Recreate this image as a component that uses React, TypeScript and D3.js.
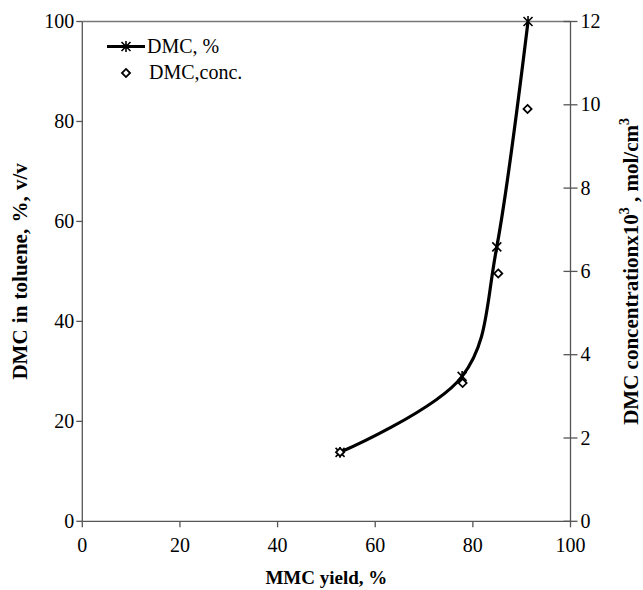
import React from "react";
import * as d3 from "d3";

const mmcYield = [52.8, 77.8, 84.9, 91.3];
const dmcPercent = [13.8, 29.0, 54.9, 100];
const concYield = [52.8, 77.9, 85.2, 91.2];
const dmcConc = [1.66, 3.32, 5.95, 9.9];
const xTicks = [0, 20, 40, 60, 80, 100];
const yLeftTicks = [0, 20, 40, 60, 80, 100];
const yRightTicks = [0, 2, 4, 6, 8, 10, 12];

const W = 643;
const H = 590;
const L = 82.3, R = 570.5, T = 21.5, B = 521.3;
const font = "Liberation Serif, DejaVu Serif, Times New Roman, serif";
const axisColor = "#555";

function star(cx: number, cy: number, r: number) {
  return `M${cx - r},${cy - r}L${cx + r},${cy + r}M${cx - r},${cy + r}L${cx + r},${cy - r}M${cx},${cy - r * 1.2}L${cx},${cy + r * 1.2}`;
}

export default function App() {
  const x = d3.scaleLinear().domain([0, 100]).range([L, R]);
  const yL = d3.scaleLinear().domain([0, 100]).range([B, T]);
  const yR = d3.scaleLinear().domain([0, 12]).range([B, T]);
  const pts: [number, number][] = mmcYield.map((v, i) => [x(v), yL(dmcPercent[i])]);
  const line = d3.line().curve(d3.curveCardinal.tension(0))(pts) || "";
  const diamond = d3.symbol().type(d3.symbolDiamond2).size(42)() || "";
  return (
    <svg width={W} height={H} style={{ display: "block", position: "absolute", left: 0, top: 0, fontFamily: font }}>
      <rect width={W} height={H} fill="#fff" />
      <line x1={L} x2={R} y1={T} y2={T} stroke="#777" strokeWidth={1.3} />
      <line x1={L} x2={R} y1={B} y2={B} stroke={axisColor} strokeWidth={1.3} />
      <line x1={L} x2={L} y1={T} y2={B} stroke={axisColor} strokeWidth={1.3} />
      <line x1={R} x2={R} y1={T} y2={B} stroke={axisColor} strokeWidth={1.3} />
      {xTicks.map((t) => (
        <g key={"x" + t}>
          <line x1={x(t)} x2={x(t)} y1={B} y2={B + 6} stroke={axisColor} strokeWidth={1.3} />
          <text x={x(t)} y={B + 31} textAnchor="middle" style={{ fontFamily: font }} fontSize={20}>{t}</text>
        </g>
      ))}
      {yLeftTicks.map((t) => (
        <g key={"yl" + t}>
          <line x1={L - 6} x2={L} y1={yL(t)} y2={yL(t)} stroke={axisColor} strokeWidth={1.3} />
          <text x={L - 8} y={yL(t) + 6.5} textAnchor="end" style={{ fontFamily: font }} fontSize={20}>{t}</text>
        </g>
      ))}
      {yRightTicks.map((t) => (
        <g key={"yr" + t}>
          <line x1={R - 7} x2={R + 7} y1={yR(t)} y2={yR(t)} stroke={axisColor} strokeWidth={1.3} />
          <text x={R + 10} y={yR(t) + 6.5} textAnchor="start" style={{ fontFamily: font }} fontSize={20}>{t}</text>
        </g>
      ))}
      <text x={(L + R) / 2} y={584} textAnchor="middle" style={{ fontFamily: font }} fontSize={19} fontWeight="bold">MMC yield, %</text>
      <text transform={`translate(27,${(T + B) / 2}) rotate(-90)`} textAnchor="middle" style={{ fontFamily: font, wordSpacing: 1 }} fontSize={21} fontWeight="bold">DMC in toluene, %, v/v</text>
      <text transform={`translate(638,${(T + B) / 2}) rotate(-90)`} textAnchor="middle" style={{ fontFamily: font }} fontSize={21} fontWeight="bold">
        DMC concentrationx10<tspan dy={-9} fontSize={14}>3</tspan><tspan dy={9}>  , mol/cm</tspan><tspan dy={-9} fontSize={14}>3</tspan>
      </text>
      <path d={line} fill="none" stroke="#000" strokeWidth={3.2} />
      {pts.map((p, i) => (
        <path key={"s" + i} d={star(p[0], p[1], 4.5)} stroke="#000" strokeWidth={1.6} fill="none" />
      ))}
      {concYield.map((v, i) => (
        <path key={"d" + i} d={diamond} transform={`translate(${x(v)},${yR(dmcConc[i])})`} fill="#fff" stroke="#000" strokeWidth={1.8} />
      ))}
      <line x1={107} x2={145} y1={46.5} y2={46.5} stroke="#000" strokeWidth={3.2} />
      <path d={star(126, 46.5, 4.5)} stroke="#000" strokeWidth={1.6} fill="none" />
      <text x={147} y={53} style={{ fontFamily: font }} fontSize={20}>DMC, %</text>
      <path d={diamond} transform="translate(126,73)" fill="#fff" stroke="#000" strokeWidth={1.8} />
      <text x={149} y={79} style={{ fontFamily: font }} fontSize={20}>DMC,conc.</text>
    </svg>
  );
}
